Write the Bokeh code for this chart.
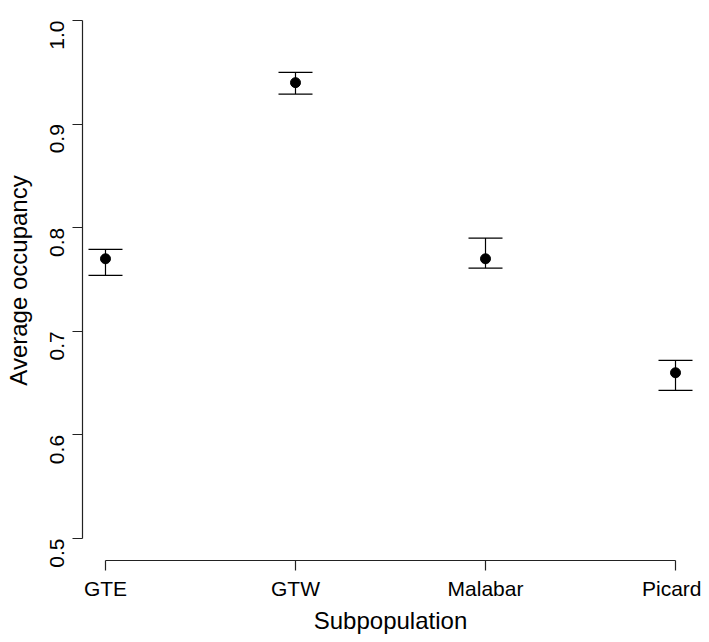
import math
from bokeh.plotting import figure
from bokeh.models import ColumnDataSource, Whisker, TeeHead, FixedTicker, Range1d, PrintfTickFormatter
from bokeh.embed import file_html
from bokeh.resources import INLINE

categories = ["GTE", "GTW", "Malabar", "Picard"]
x_pos = [1, 2, 3, 4]
occupancy = [0.770, 0.940, 0.770, 0.660]
lower = [0.754, 0.929, 0.761, 0.643]
upper = [0.779, 0.950, 0.790, 0.672]
y_ticks = [0.5, 0.6, 0.7, 0.8, 0.9, 1.0]

src = ColumnDataSource(dict(x=x_pos, y=occupancy, lower=lower, upper=upper))

FONT = "Liberation Sans"

p = figure(width=701, height=640, output_backend="svg", toolbar_location=None,
           x_range=Range1d(0.879, 4.121), y_range=Range1d(0.4788, 1.0193),
           min_border_left=82, min_border_right=3, min_border_top=0, min_border_bottom=80)
p.outline_line_color = None
p.xgrid.visible = False
p.ygrid.visible = False

w = Whisker(source=src, base="x", upper="upper", lower="lower", dimension="height",
            line_color="black", line_width=1.2,
            upper_head=TeeHead(size=34, line_color="black", line_width=1.2),
            lower_head=TeeHead(size=34, line_color="black", line_width=1.2))
p.add_layout(w)
p.scatter("x", "y", source=src, size=10, color="black")

for ax in (p.xaxis[0], p.yaxis[0]):
    ax.axis_line_color = "#222222"
    ax.major_tick_line_color = "#222222"
    ax.axis_line_width = 1.2
    ax.major_tick_line_width = 1.2
    ax.major_tick_out = 10
    ax.major_tick_in = 0
    ax.minor_tick_line_color = None
    ax.major_label_text_font = FONT
    ax.major_label_text_font_size = "21px"
    ax.major_label_text_color = "black"
    ax.axis_label_text_font = FONT
    ax.axis_label_text_font_size = "24px"
    ax.axis_label_text_font_style = "normal"
    ax.axis_label_text_color = "black"

xa = p.xaxis[0]
xa.ticker = FixedTicker(ticks=x_pos)
xa.major_label_overrides = {x: c for x, c in zip(x_pos, categories)}
xa.bounds = (x_pos[0], x_pos[-1])
xa.axis_label = "Subpopulation"
xa.major_label_standoff = 6
xa.axis_label_standoff = 4

ya = p.yaxis[0]
ya.ticker = FixedTicker(ticks=y_ticks)
ya.formatter = PrintfTickFormatter(format="%.1f")
ya.bounds = (y_ticks[0], y_ticks[-1])
ya.major_label_orientation = math.pi / 2
ya.axis_label = "Average occupancy"
ya.major_label_standoff = 15
ya.axis_label_standoff = 9

open("out.html", "w").write(file_html(p, INLINE))
